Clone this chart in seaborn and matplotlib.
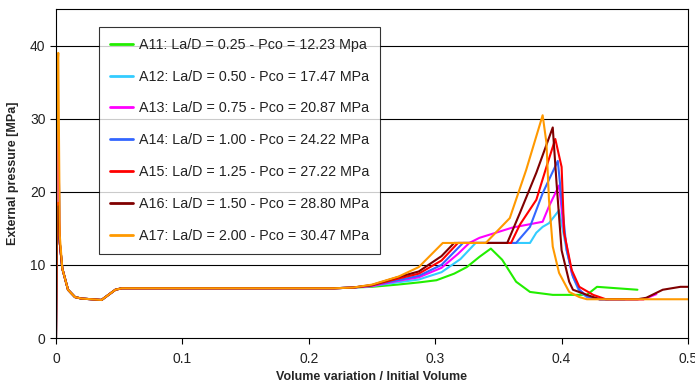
import matplotlib
matplotlib.use("Agg")
import matplotlib.pyplot as plt
import seaborn as sns
import numpy as np

sns.set_theme(style="white")
plt.rcParams['font.family'] = ['Liberation Sans', 'DejaVu Sans']

# ---- data ----
labels = [
    "A11: La/D = 0.25 - Pco = 12.23 Mpa",
    "A12: La/D = 0.50 - Pco = 17.47 MPa",
    "A13: La/D = 0.75 - Pco = 20.87 MPa",
    "A14: La/D = 1.00 - Pco = 24.22 MPa",
    "A15: La/D = 1.25 - Pco = 27.22 MPa",
    "A16: La/D = 1.50 - Pco = 28.80 MPa",
    "A17: La/D = 2.00 - Pco = 30.47 MPa",
]
colors = ["#22ee00", "#33ccff", "#ff00ff", "#3366ff", "#ff0000", "#800000", "#ff9900"]

# common early part of all curves (after initial spike)
start_x = [0.005, 0.0095, 0.015, 0.02, 0.036, 0.047, 0.052, 0.1, 0.15, 0.2, 0.22, 0.235]
start_y = [9.5, 6.6, 5.6, 5.4, 5.2, 6.6, 6.8, 6.8, 6.8, 6.8, 6.8, 6.9]

spike_x = [0.0, 0.0008, 0.0018, 0.003]
spike_peaks = [28.0, 26.0, 28.5, 15.0, 18.5, 18.0, 39.0]
spike_after = [13.0, 13.0, 13.0, 13.0, 13.0, 13.0, 14.0]

a11_x = [0.25, 0.27, 0.287, 0.301, 0.315, 0.325, 0.335, 0.344, 0.353, 0.364, 0.375, 0.393, 0.42, 0.428, 0.444, 0.46]
a11_y = [7.0, 7.3, 7.6, 7.9, 8.8, 9.7, 11.1, 12.23, 10.7, 7.7, 6.3, 5.9, 5.9, 7.0, 6.8, 6.6]

a12_x = [0.25, 0.27, 0.287, 0.305, 0.32, 0.332, 0.375, 0.38, 0.385, 0.39, 0.398, 0.404, 0.409, 0.414, 0.42, 0.43, 0.437]
a12_y = [7.1, 7.6, 8.0, 9.0, 10.8, 13.0, 13.0, 14.4, 15.2, 15.7, 17.47, 12.0, 8.4, 6.3, 5.6, 5.3, 5.3]

a13_x = [0.25, 0.27, 0.287, 0.305, 0.318, 0.327, 0.335, 0.361, 0.385, 0.39, 0.398, 0.402, 0.408, 0.414, 0.42, 0.43, 0.465, 0.475]
a13_y = [7.1, 7.8, 8.3, 9.6, 11.5, 13.0, 13.7, 15.1, 15.9, 18.0, 20.87, 14.4, 8.9, 6.6, 5.7, 5.3, 5.3, 6.0]

a14_x = [0.25, 0.27, 0.287, 0.305, 0.322, 0.364, 0.375, 0.385, 0.397, 0.4, 0.404, 0.409, 0.414, 0.42, 0.43, 0.45]
a14_y = [7.2, 7.9, 8.5, 10.0, 13.0, 13.0, 15.2, 19.8, 24.22, 18.9, 12.0, 8.4, 6.6, 5.7, 5.3, 5.3]

a15_x = [0.25, 0.27, 0.287, 0.305, 0.318, 0.36, 0.367, 0.38, 0.388, 0.395, 0.4, 0.402, 0.408, 0.414, 0.425, 0.435, 0.465]
a15_y = [7.2, 8.1, 8.8, 10.6, 13.0, 13.0, 15.5, 18.9, 23.4, 27.22, 23.4, 14.4, 9.3, 7.0, 5.9, 5.3, 5.3]

a16_x = [0.25, 0.27, 0.287, 0.305, 0.315, 0.357, 0.367, 0.38, 0.393, 0.396, 0.4, 0.406, 0.409, 0.42, 0.43, 0.46, 0.467, 0.48, 0.494, 0.5]
a16_y = [7.25, 8.3, 9.1, 11.2, 13.0, 13.0, 17.1, 22.6, 28.8, 21.2, 12.0, 7.7, 6.6, 5.9, 5.3, 5.3, 5.5, 6.6, 7.0, 7.0]

a17_x = [0.25, 0.271, 0.287, 0.306, 0.34, 0.359, 0.372, 0.385, 0.388, 0.39, 0.393, 0.398, 0.406, 0.414, 0.42, 0.5]
a17_y = [7.3, 8.4, 9.7, 13.0, 13.0, 16.4, 23.0, 30.47, 26.7, 18.9, 12.5, 8.9, 6.3, 5.6, 5.3, 5.3]

tails_x = [a11_x, a12_x, a13_x, a14_x, a15_x, a16_x, a17_x]
tails_y = [a11_y, a12_y, a13_y, a14_y, a15_y, a16_y, a17_y]

xticks = [0, 0.1, 0.2, 0.3, 0.4, 0.5]
xticklabels = ["0", "0.1", "0.2", "0.3", "0.4", "0.5"]
yticks = [0, 10, 20, 30, 40]

# ---- figure ----
fig = plt.figure(figsize=(6.95, 3.91), dpi=100)
ax = fig.add_axes([56/695, 53/391, 632/695, 329/391])

for i in range(7):
    xs = spike_x + start_x + tails_x[i]
    ys = [0.0, spike_peaks[i] * 0.93, spike_peaks[i], spike_after[i]] + start_y + tails_y[i]
    sns.lineplot(x=xs, y=ys, ax=ax, color=colors[i], lw=1.5, label=labels[i],
                 sort=False, estimator=None)

ax.set_xlim(0, 0.5)
ax.set_ylim(0, 45)
ax.set_xticks(xticks)
ax.set_xticklabels(xticklabels)
ax.set_yticks(yticks)
for yv in [10, 20, 30, 40]:
    ax.axhline(yv, color="black", lw=0.8, zorder=0)

ax.tick_params(axis="both", direction="out", length=4, width=0.8, color="black",
               labelsize=10, labelcolor="#222222", bottom=True, left=True)
ax.tick_params(axis="x", pad=6)
for s in ax.spines.values():
    s.set_color("black")
    s.set_linewidth(0.8)

ax.set_xlabel("Volume variation / Initial Volume", fontsize=9, fontweight="bold", labelpad=4)
ax.set_ylabel("External pressure [MPa]", fontsize=9, fontweight="bold", labelpad=8)

leg = ax.legend(loc="upper left", bbox_to_anchor=(43/632, (338-27)/329), borderaxespad=0,
                fontsize=10.3, frameon=True, fancybox=False, labelspacing=1.25,
                handlelength=1.6, handletextpad=0.45, borderpad=0.75)
leg.get_frame().set_edgecolor("black")
leg.get_frame().set_linewidth(0.8)
for t in leg.get_texts():
    t.set_color("#222222")
for h in leg.get_lines():
    h.set_linewidth(2)

fig.savefig("out.png", dpi=100)
